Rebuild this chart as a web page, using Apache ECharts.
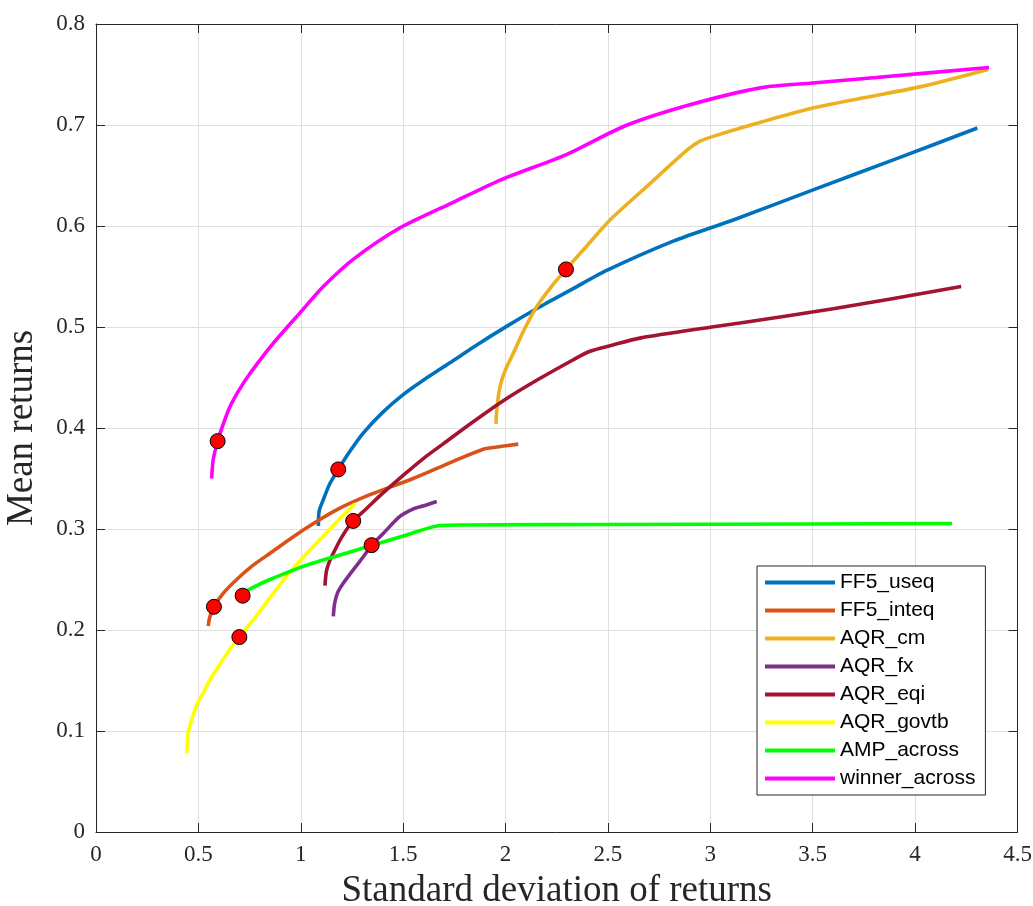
<!DOCTYPE html>
<html>
<head>
<meta charset="utf-8">
<script src="https://cdn.jsdelivr.net/npm/echarts@6/dist/echarts.min.js"></script>
<style>
html,body{margin:0;padding:0;background:#fff;}
#chart{width:1033px;height:906px;}
</style>
</head>
<body>
<div id="chart"></div>
<script>
// ---- data ----
const seriesNames = ['FF5_useq','FF5_inteq','AQR_cm','AQR_fx','AQR_eqi','AQR_govtb','AMP_across','winner_across'];

const useqX = [1.086,1.09,1.11,1.14,1.183,1.24,1.305,1.40,1.50,1.60,1.728,1.85,2.005,2.168,2.33,2.494,2.819,3.112,3.505,3.9,4.304];
const useqY = [0.303,0.318,0.329,0.344,0.359,0.377,0.395,0.4155,0.433,0.4475,0.4645,0.481,0.5006,0.520,0.538,0.556,0.585,0.606,0.636,0.666,0.697];

const inteqX = [0.548,0.556,0.576,0.62,0.687,0.76,0.85,1.012,1.175,1.338,1.549,1.745,1.891,1.95,2.062];
const inteqY = [0.204,0.213,0.223,0.236,0.250,0.263,0.276,0.299,0.319,0.334,0.350,0.367,0.379,0.381,0.384];

const cmX = [1.953,1.958,1.973,2.0,2.038,2.09,2.152,2.22,2.295,2.4,2.51,2.7,2.889,2.95,3.033,3.25,3.505,3.75,4.029,4.356];
const cmY = [0.404,0.420,0.441,0.458,0.474,0.497,0.520,0.539,0.557,0.581,0.606,0.641,0.6755,0.684,0.690,0.703,0.717,0.727,0.738,0.755];

const fxX = [1.159,1.165,1.18,1.208,1.25,1.30,1.346,1.40,1.484,1.55,1.60,1.664];
const fxY = [0.2135,0.226,0.237,0.2465,0.258,0.271,0.2838,0.295,0.3125,0.320,0.323,0.3273];

const eqiX = [1.118,1.125,1.14,1.159,1.20,1.256,1.32,1.387,1.517,1.60,1.70,1.82,1.989,2.15,2.331,2.412,2.52,2.656,3.007,3.145,3.6,4.225];
const eqiY = [0.244,0.258,0.268,0.276,0.292,0.308,0.320,0.333,0.356,0.370,0.385,0.403,0.427,0.447,0.4676,0.476,0.482,0.489,0.500,0.504,0.518,0.540];

const govtbX = [0.443,0.45,0.467,0.49,0.524,0.56,0.605,0.65,0.70,0.776,0.85,0.93,1.012,1.10,1.18,1.265];
const govtbY = [0.078,0.098,0.111,0.125,0.138,0.152,0.166,0.180,0.193,0.212,0.232,0.253,0.272,0.291,0.308,0.325];

const ampX = [0.72,0.785,0.85,1.012,1.20,1.346,1.50,1.68,1.80,2.5,3.5,4.18];
const ampY = [0.237,0.244,0.250,0.263,0.2747,0.2838,0.293,0.3035,0.304,0.3045,0.305,0.3055];

const winX = [0.565,0.572,0.594,0.62,0.654,0.70,0.752,0.866,0.996,1.11,1.256,1.483,1.75,1.98,2.3,2.582,2.9,3.25,3.5,3.81,4.361];
const winY = [0.350,0.368,0.387,0.403,0.421,0.438,0.454,0.484,0.514,0.540,0.567,0.598,0.624,0.646,0.671,0.699,0.720,0.737,0.7416,0.747,0.757];

const markerX = [0.594,1.183,2.295,1.256,1.346,0.576,0.716,0.70];
const markerY = [0.387,0.359,0.557,0.308,0.284,0.223,0.234,0.193];

const xTicks = {min:0, max:4.5, interval:0.5};
const yTicks = {min:0, max:0.8, interval:0.1};

const colors = ['#0072BD','#D95319','#EDB120','#7E2F8E','#A2142F','#FFFF00','#00FF00','#FF00FF'];

// ---- build ----
const xs = [useqX,inteqX,cmX,fxX,eqiX,govtbX,ampX,winX];
const ys = [useqY,inteqY,cmY,fxY,eqiY,govtbY,ampY,winY];
const pair = (a,b) => a.map((v,i)=>[v,b[i]]);

const axisColor = '#262626';
const serif = '"Liberation Serif", "Times New Roman", serif';

const lineSeries = seriesNames.map((n,i)=>({
  name:n, type:'line', data:pair(xs[i],ys[i]),
  showSymbol:false, symbol:'none', smooth:0.25,
  lineStyle:{width:3.6, color:colors[i]}, itemStyle:{color:colors[i]},
  z:2+i, animation:false
}));

const markerSeries = {
  name:'markers', type:'scatter', data:pair(markerX,markerY),
  symbol:'circle', symbolSize:15,
  itemStyle:{color:'#FF0000', borderColor:'#000', borderWidth:1, opacity:1},
  z:20, animation:false
};

const chart = echarts.init(document.getElementById('chart'), null, {renderer:'canvas'});
chart.setOption({
  backgroundColor:'#fff',
  animation:false,
  grid:{left:96, right:15.5, top:24, bottom:74, containLabel:false, outerBoundsMode:'none'},
  xAxis:[{
    type:'value', min:xTicks.min, max:xTicks.max, interval:xTicks.interval,
    name:'Standard deviation of returns', nameLocation:'middle', nameGap:41,
    nameTextStyle:{fontFamily:serif, fontSize:37, color:'#262626'},
    axisLine:{show:true, onZero:false, lineStyle:{color:axisColor, width:1}},
    axisTick:{show:true, inside:true, length:9, lineStyle:{color:axisColor}},
    axisLabel:{margin:11, fontFamily:serif, fontSize:23, color:'#262626'},
    splitLine:{show:true, lineStyle:{color:'#dfdfdf', width:1}}
  },{
    type:'value', position:'top', min:xTicks.min, max:xTicks.max, interval:xTicks.interval,
    axisLine:{show:true, onZero:false, lineStyle:{color:axisColor, width:1}},
    axisTick:{show:true, inside:true, length:9, lineStyle:{color:axisColor}},
    axisLabel:{show:false}, splitLine:{show:false}
  }],
  yAxis:[{
    type:'value', min:yTicks.min, max:yTicks.max, interval:yTicks.interval,
    name:'Mean returns', nameLocation:'middle', nameGap:55,
    nameTextStyle:{fontFamily:serif, fontSize:37, color:'#262626'},
    axisLine:{show:true, onZero:false, lineStyle:{color:axisColor, width:1}},
    axisTick:{show:true, inside:true, length:9, lineStyle:{color:axisColor}},
    axisLabel:{margin:11, fontFamily:serif, fontSize:23, color:'#262626'},
    splitLine:{show:true, lineStyle:{color:'#dfdfdf', width:1}}
  },{
    type:'value', position:'right', min:yTicks.min, max:yTicks.max, interval:yTicks.interval,
    axisLine:{show:true, onZero:false, lineStyle:{color:axisColor, width:1}},
    axisTick:{show:true, inside:true, length:9, lineStyle:{color:axisColor}},
    axisLabel:{show:false}, splitLine:{show:false}
  }],
  legend:{
    show:true, orient:'vertical', left:757, top:566,
    data:seriesNames, icon:'rect', itemWidth:70, itemHeight:4, itemGap:7,
    padding:[6,10,6,8], backgroundColor:'#fff',
    borderColor:'#262626', borderWidth:1,
    textStyle:{fontFamily:'"Liberation Sans", Arial, sans-serif', fontSize:21, lineHeight:21, color:'#000'},
    selectedMode:false
  },
  series:[...lineSeries, markerSeries]
});
</script>
</body>
</html>
